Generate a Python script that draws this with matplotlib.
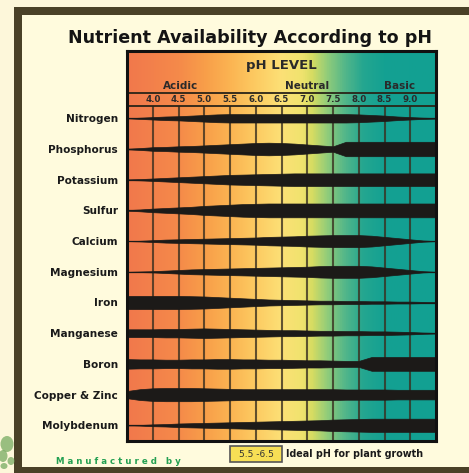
import numpy as np
import matplotlib
matplotlib.use("Agg")
import matplotlib.pyplot as plt
from matplotlib.colors import LinearSegmentedColormap
from matplotlib.patches import Rectangle, Ellipse

# ---- data -------------------------------------------------------------
nutrients = ["Nitrogen", "Phosphorus", "Potassium", "Sulfur", "Calcium",
             "Magnesium", "Iron", "Manganese", "Boron", "Copper & Zinc",
             "Molybdenum"]

ph_ticks = [4.0, 4.5, 5.0, 5.5, 6.0, 6.5, 7.0, 7.5, 8.0, 8.5, 9.0]
ph_tick_labels = ["4.0", "4.5", "5.0", "5.5", "6.0", "6.5", "7.0", "7.5",
                  "8.0", "8.5", "9.0"]

# pH sample points (0.25 steps) and band thickness
ph_grid = [3.5, 3.75, 4.0, 4.25, 4.5, 4.75, 5.0, 5.25, 5.5, 5.75, 6.0, 6.25,
           6.5, 6.75, 7.0, 7.25, 7.5, 7.75, 8.0, 8.25, 8.5, 8.75, 9.0, 9.25,
           9.5]

nitrogen = [0, 1, 2, 3, 3.5, 4.5, 5.5, 6.5, 7, 7, 7, 7, 7, 7, 7, 7, 7, 7,
            6.5, 5.5, 4.5, 3, 2, 1, 0.5]
phosphorus = [0.5, 1.5, 3, 3.5, 4.5, 5, 6, 7, 8, 9, 10, 10.5, 10, 9, 7.5,
              6, 4.5, 12, 12, 12, 12, 12, 12, 12, 12]
potassium = [0.5, 1, 2, 3, 4, 5, 6, 7, 8, 8.5, 9, 9.5, 10, 10.5, 10.5, 10.5,
             10.5, 10.5, 10.5, 10.5, 10.5, 10.5, 10.5, 10.5, 10.5]
sulfur = [0.5, 1.5, 3, 4, 5, 6, 7.5, 8.5, 9.5, 10.5, 11, 11.5, 11.5, 11.5,
          11.5, 11.5, 11.5, 11.5, 11.5, 11.5, 11.5, 11.5, 11.5, 11.5, 11.5]
calcium = [0, 0.5, 1.5, 2.5, 3, 3.5, 4, 4.5, 5, 5.5, 6, 7, 7.5, 8, 9, 9.5,
           10, 10, 10, 9, 7, 5, 3, 1, 0]
magnesium = [0, 0.5, 1, 2, 3, 4, 4.5, 5, 5.5, 6, 6.5, 7, 7.5, 8, 8.5, 9.5,
             10, 10, 10, 9, 7, 5, 3, 1, 0]
iron = [11, 11, 11, 11, 11, 10.5, 10, 9, 8, 7, 6, 5, 4.5, 4, 3.5, 3, 3, 2.5,
        2.5, 2, 2, 1.5, 1.5, 1, 0.5]
manganese = [6.5, 6.5, 6.5, 7, 7, 7.5, 8, 7.5, 7, 6.5, 6, 5.5, 5, 5, 4.5, 4,
             4, 3.5, 3.5, 3, 3, 2.5, 2, 1, 0.5]
boron = [8, 7.5, 7.5, 7, 7, 7.5, 7.5, 8, 8, 7.5, 7.5, 7, 7, 6.5, 6, 6, 5.5,
         5, 5, 11.5, 11.5, 11.5, 11.5, 11.5, 11.5]
copper_zinc = [6, 9, 10.5, 11, 11, 11, 10.5, 10, 9.5, 9, 9, 9, 9, 9, 9, 9, 9,
               8.5, 8.5, 8.5, 8.5, 8, 8, 8, 8]
molybdenum = [0, 0.5, 1.5, 2, 3, 3.5, 4, 4.5, 5, 5.5, 6, 6.5, 7, 7.5, 8, 8.5,
              9.5, 10, 10.5, 11, 11, 11, 11, 11, 11]

bands = [nitrogen, phosphorus, potassium, sulfur, calcium, magnesium, iron,
         manganese, boron, copper_zinc, molybdenum]

# colour of the pH scale
grad_ph = [3.5, 4.5, 5.0, 5.5, 6.0, 6.5, 6.9, 7.1, 7.4, 7.75, 8.1, 8.5, 9.5]
grad_col = ["#f1784c", "#f58a4a", "#f89e49", "#fbb452", "#fdcb62", "#fce076",
            "#f0e36e", "#d6dc62", "#90cc7a", "#52b68a", "#24a690", "#14a192",
            "#12a092"]

# ---- layout -----------------------------------------------------------
W, H = 469, 473
fig = plt.figure(figsize=(W / 100, H / 100), dpi=100)
fig.patch.set_facecolor("#fdf7da")

bg = fig.add_axes([0, 0, 1, 1])
bg.set_xlim(0, W)
bg.set_ylim(H, 0)
bg.axis("off")
bg.add_patch(Rectangle((14, 7), W, H, color="#4a4127", lw=0))
bg.add_patch(Rectangle((22, 15), 450, 452, color="#fffbdd", lw=0))
bg.add_patch(Rectangle((22, 467), W, 10, color="#4a4127", lw=0))
# bit of the green logo cut off at the left edge
for (cx, cy, ew, eh) in [(7, 444, 13, 16), (3, 456, 9, 12), (11, 461, 7, 8),
                         (4, 466, 7, 6)]:
    bg.add_patch(Ellipse((cx, cy), ew, eh, color="#6fa65a", alpha=0.7, lw=0))

row_px = 30.7
band_scale = 1.2
y_top = (51 - 118.3) / row_px
y_bot = (441 - 118.3) / row_px
ax = fig.add_axes([127 / W, 1 - 441 / H, (436 - 127) / W, (441 - 51) / H])
ax.set_xlim(3.5, 9.5)
ax.set_ylim(y_bot, y_top)

cmap = LinearSegmentedColormap.from_list(
    "ph", [((p - 3.5) / 6.0, c) for p, c in zip(grad_ph, grad_col)])
ax.imshow(np.linspace(0, 1, 400)[np.newaxis, :], extent=(3.5, 9.5, y_bot, y_top),
          aspect="auto", cmap=cmap, zorder=0)

line1 = (93.5 - 118.3) / row_px
line2 = (106.5 - 118.3) / row_px
ax.hlines([line1, line2], 3.5, 9.5, colors="#2a2418", lw=1.3, zorder=2)
ax.vlines(ph_ticks, line2, y_bot, colors="#3a3020", lw=1.5, alpha=0.8, zorder=1)
ax.hlines(range(len(nutrients)), 3.5, 9.5, colors="#1c1a18", lw=0.9, zorder=2)

ph = np.array(ph_grid)
for i, w in enumerate(bands):
    half = np.array(w) * band_scale / 2 / row_px
    ax.fill_between(ph, i - half, i + half, color="#1c1a18", lw=0.5,
                    edgecolor="#1c1a18", zorder=3)

for p, lab in zip(ph_ticks, ph_tick_labels):
    ax.text(p, (100 - 118.3) / row_px, lab, ha="center", va="center",
            fontsize=6.2, fontweight="bold", color="#2a2a2a", zorder=4)

ax.text(6.5, (66 - 118.3) / row_px, "pH LEVEL", ha="center", va="center",
        fontsize=9.5, fontweight="bold", color="#2a2a2a")
ax.text(4.55, (86 - 118.3) / row_px, "Acidic", ha="center", va="center",
        fontsize=7.5, fontweight="bold", color="#2a2a2a")
ax.text(7.0, (86 - 118.3) / row_px, "Neutral", ha="center", va="center",
        fontsize=7.5, fontweight="bold", color="#2a2a2a")
ax.text(8.8, (86 - 118.3) / row_px, "Basic", ha="center", va="center",
        fontsize=7.5, fontweight="bold", color="#2a2a2a")

ax.set_xticks([])
ax.set_yticks(range(len(nutrients)))
ax.set_yticklabels(nutrients, fontsize=7.6, fontweight="bold", color="#1a1a1a")
ax.tick_params(axis="y", length=0, pad=6.5)
for s in ax.spines.values():
    s.set_linewidth(2.2)
    s.set_color("#111111")
    s.set_zorder(5)

fig.text(249.5 / W, 1 - 38 / H, "Nutrient Availability According to pH",
         ha="center", va="center", fontsize=12.6, fontweight="bold",
         color="#141414")

# legend for the ideal range
bg.add_patch(Rectangle((230, 446), 52, 16, facecolor="#f7df55",
                       edgecolor="#555555", lw=1.2))
bg.text(256, 454.5, "5.5 -6.5", ha="center", va="center", fontsize=6.5,
        color="#333333")
bg.text(286, 454, "Ideal pH for plant growth", ha="left", va="center",
        fontsize=6.9, fontweight="bold", color="#1a1a1a")
bg.text(118, 461, "M a n u f a c t u r e d   b y", ha="center", va="center",
        fontsize=6.2, fontweight="bold", color="#23a052")

fig.savefig("out.png", dpi=100, facecolor=fig.get_facecolor())
